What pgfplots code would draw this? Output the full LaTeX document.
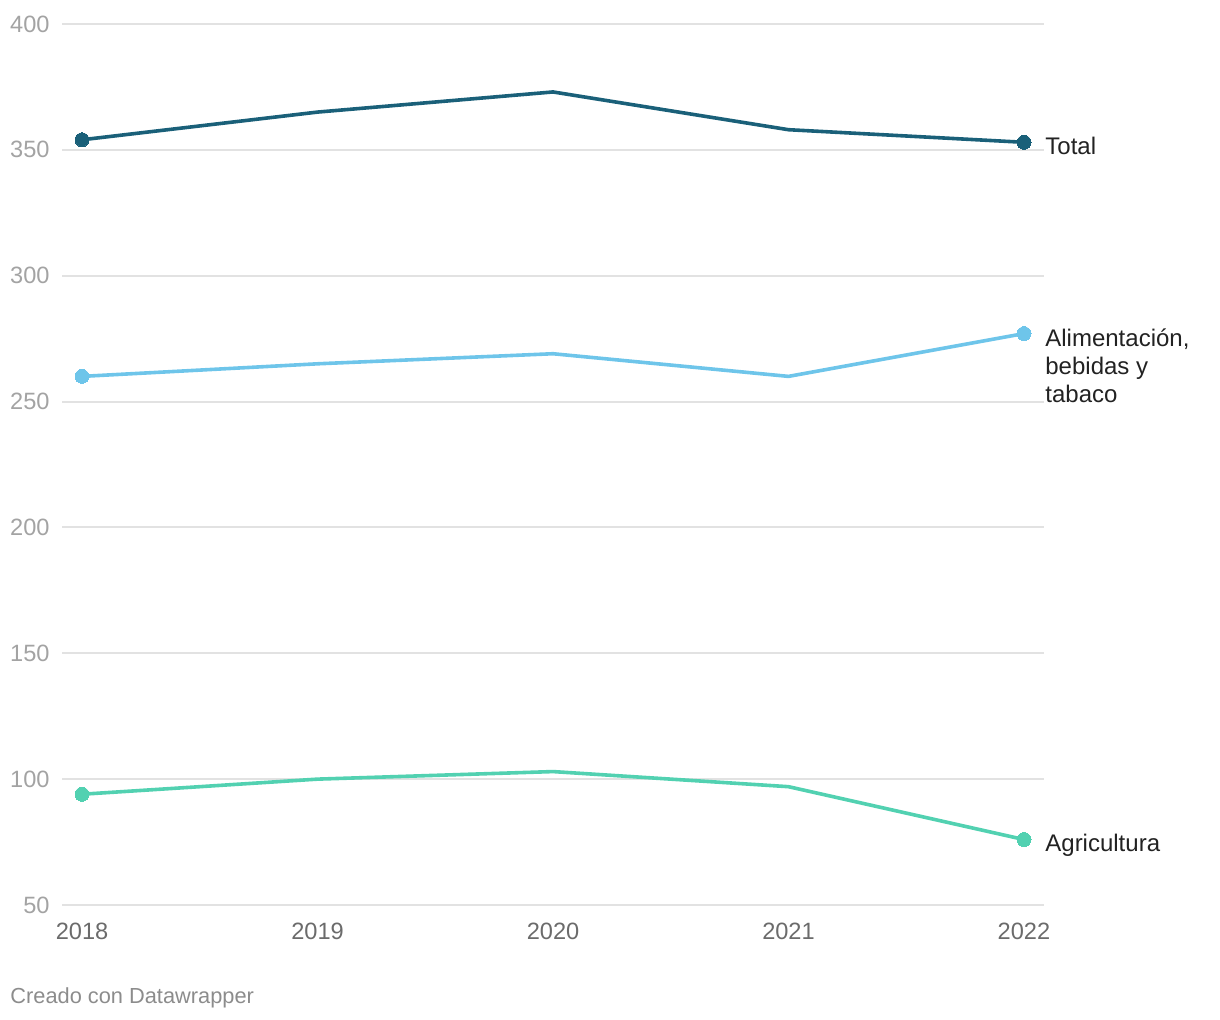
\documentclass[border=0pt]{standalone}
\usepackage{fontspec}
\setmainfont{Liberation Sans}
\usepackage{pgfplots}
\pgfplotsset{compat=1.18}
\definecolor{ctotal}{HTML}{1A6079}
\definecolor{calim}{HTML}{6EC5EA}
\definecolor{cagri}{HTML}{52D1B1}
\definecolor{cgrid}{HTML}{E2E2E2}
\definecolor{cytick}{HTML}{A3A3A3}
\definecolor{cxtick}{HTML}{6B6B6B}
\definecolor{clab}{HTML}{222222}
\definecolor{ccredit}{HTML}{8C8C8C}
\begin{document}
\begin{tikzpicture}
\path[use as bounding box] (0,0) rectangle (610pt,510pt);
\begin{axis}[
  at={(31pt,57.5pt)}, anchor=south west,
  scale only axis, width=491pt, height=440.5pt,
  xmin=2017.915, xmax=2022.085, ymin=50, ymax=400,
  axis line style={draw=none},
  xtick={2018,2019,2020,2021,2022},
  ytick={50,100,...,400},
  major tick length=0pt,
  ymajorgrids, grid style={cgrid, line width=1pt},
  /pgf/number format/assume math mode=true,
  /pgf/number format/1000 sep={},
  yticklabel style={anchor=east, inner sep=0pt, xshift=-6pt, text=cytick, font=\fontsize{11.8}{13}\selectfont},
  xticklabel style={anchor=north, inner sep=0pt, yshift=-9pt, text=cxtick, font=\fontsize{11.8}{13}\selectfont},
  clip=false,
  every axis plot/.append style={line width=1.8pt, mark=*, mark size=3.5pt, mark indices={1,5}},
]
\addplot[ctotal, mark options={fill=ctotal, draw=ctotal, line width=0pt}] coordinates {(2018,354) (2019,365) (2020,373) (2021,358) (2022,353)};
\addplot[calim, mark options={fill=calim, draw=calim, line width=0pt}] coordinates {(2018,260) (2019,265) (2020,269) (2021,260) (2022,277)};
\addplot[cagri, mark options={fill=cagri, draw=cagri, line width=0pt}] coordinates {(2018,94) (2019,100) (2020,103) (2021,97) (2022,76)};
\begin{scope}[every node/.style={anchor=base west, inner sep=0pt, text=clab, font=\fontsize{12}{14}\selectfont}]
\node[xshift=10.5pt, yshift=-6pt] at (axis cs:2022,353) {Total};
\node[xshift=10.5pt, yshift=-6.5pt] at (axis cs:2022,277) {Alimentación,};
\node[xshift=10.5pt, yshift=-20.5pt] at (axis cs:2022,277) {bebidas y};
\node[xshift=10.5pt, yshift=-34.5pt] at (axis cs:2022,277) {tabaco};
\node[xshift=10.5pt, yshift=-6pt] at (axis cs:2022,76) {Agricultura};
\end{scope}
\end{axis}
\node[anchor=base west, inner sep=0pt, text=ccredit, font=\fontsize{10.9}{12}\selectfont] at (5pt,8pt) {Creado con Datawrapper};
\end{tikzpicture}
\end{document}
